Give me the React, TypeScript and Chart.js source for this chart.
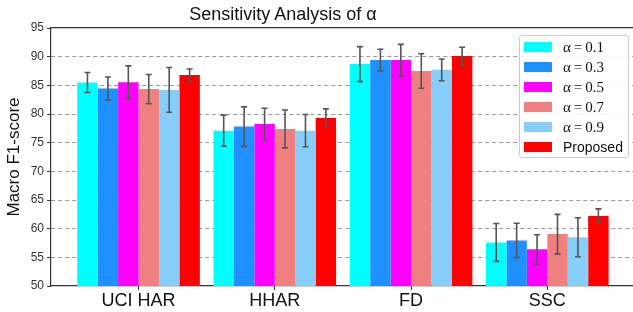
import React, { useEffect, useRef } from "react";
import { Chart, registerables } from "chart.js";

Chart.register(...registerables);

const categories = ["UCI HAR", "HHAR", "FD", "SSC"];
const seriesLabels = ["α\u2009=\u20090.1", "α\u2009=\u20090.3", "α\u2009=\u20090.5", "α\u2009=\u20090.7", "α\u2009=\u20090.9", "Proposed"];
const seriesColors = ["#00FFFF", "#1E90FF", "#FF00FF", "#F08080", "#87CEFA", "#FF0000"];

const alpha01 = [85.5, 77.1, 88.7, 57.6];
const alpha03 = [84.45, 77.8, 89.4, 57.95];
const alpha05 = [85.55, 78.25, 89.4, 56.4];
const alpha07 = [84.35, 77.4, 87.5, 59.05];
const alpha09 = [84.2, 77.1, 87.7, 58.5];
const proposed = [86.8, 79.3, 90.1, 62.2];

const err01 = [1.75, 2.7, 3.05, 3.3];
const err03 = [2.0, 3.45, 1.9, 3.0];
const err05 = [2.85, 2.75, 2.75, 2.55];
const err07 = [2.55, 3.3, 3.0, 3.45];
const err09 = [3.9, 2.8, 1.9, 3.4];
const errProposed = [1.05, 1.6, 1.55, 1.25];

const yTicks = [50, 55, 60, 65, 70, 75, 80, 85, 90, 95];

const seriesValues = [alpha01, alpha03, alpha05, alpha07, alpha09, proposed];
const seriesErrors = [err01, err03, err05, err07, err09, errProposed];

const errorBarPlugin = {
  id: "errorBars",
  afterDatasetsDraw(chart: any) {
    const ctx = chart.ctx;
    const yScale = chart.scales.y;
    ctx.save();
    ctx.strokeStyle = "#555555";
    ctx.lineWidth = 1.6;
    chart.data.datasets.forEach((ds: any, di: number) => {
      const meta = chart.getDatasetMeta(di);
      meta.data.forEach((el: any, i: number) => {
        const v = ds.data[i].y;
        const e = ds.errors[i];
        const x = el.x;
        const yTop = yScale.getPixelForValue(v + e);
        const yBot = yScale.getPixelForValue(v - e);
        ctx.beginPath();
        ctx.moveTo(x, yTop);
        ctx.lineTo(x, yBot);
        ctx.moveTo(x - 3, yTop);
        ctx.lineTo(x + 3, yTop);
        ctx.moveTo(x - 3, yBot);
        ctx.lineTo(x + 3, yBot);
        ctx.stroke();
      });
    });
    ctx.restore();
  },
};

export default function App() {
  const canvasRef = useRef<HTMLCanvasElement | null>(null);

  useEffect(() => {
    if (!canvasRef.current) return;
    const chart = new Chart(canvasRef.current, {
      type: "bar",
      data: {
        datasets: seriesValues.map((vals, si) => ({
          label: seriesLabels[si],
          data: vals.map((v, i) => ({ x: i, y: v })),
          errors: seriesErrors[si],
          backgroundColor: seriesColors[si],
          borderWidth: 0,
          categoryPercentage: 0.9,
          barPercentage: 1.0,
        })) as any,
      },
      options: {
        animation: false,
        responsive: false,
        maintainAspectRatio: false,
        layout: { padding: { top: 28, left: 0, right: 0, bottom: 0 } },
        plugins: {
          legend: { display: false },
          title: { display: false },
          tooltip: { enabled: false },
        },
        scales: {
          x: {
            type: "linear",
            offset: false,
            min: -0.6425,
            max: 3.629,
            afterBuildTicks: (s: any) => {
              s.ticks = categories.map((_, i) => ({ value: i }));
            },
            afterFit: (s: any) => {
              s.height = 26;
            },
            ticks: {
              callback: (v: any) => categories[v] ?? "",
              font: { family: "Liberation Sans", size: 18 },
              color: "#111111",
              padding: 0,
              maxRotation: 0,
              autoSkip: false,
            },
            grid: {
              display: true,
              offset: false,
              drawOnChartArea: false,
              color: "rgba(0,0,0,0)",
              drawTicks: true,
              tickLength: 4,
              tickColor: "#333333",
              tickWidth: 1,
            },
            border: { display: true, color: "#333333", width: 1.2 },
          },
          x2: {
            type: "linear",
            position: "top",
            offset: false,
            min: 0,
            max: 1,
            afterFit: (s: any) => {
              s.height = 0;
            },
            ticks: { display: false },
            grid: { display: false, drawTicks: false, offset: false },
            border: { display: true, color: "#333333", width: 1.2 },
          },
          y: {
            min: 50,
            max: 95,
            afterBuildTicks: (s: any) => {
              s.ticks = yTicks.map((v) => ({ value: v }));
            },
            afterFit: (s: any) => {
              s.width = 51;
            },
            ticks: {
              font: { family: "Liberation Sans", size: 12 },
              color: "#333333",
              padding: 3,
            },
            grid: {
              color: (c: any) =>
                c.tick && (c.tick.value === 50 || c.tick.value === 95) ? "rgba(0,0,0,0)" : "#9a9a9a",
              lineWidth: 1,
              drawTicks: true,
              tickLength: 4,
              tickColor: "#333333",
              tickWidth: 1,
              tickBorderDash: [],
            },
            border: { display: true, color: "#333333", width: 1.2, dash: [4, 3] },
            title: {
              display: true,
              text: "Macro F1-score",
              font: { family: "Liberation Sans", size: 17 },
              color: "#111111",
              padding: { top: 4, bottom: 0 },
            },
          },
        },
      },
      plugins: [errorBarPlugin],
    } as any);
    return () => chart.destroy();
  }, []);

  return (
    <div style={{ position: "absolute", left: 0, top: 0, width: 633, height: 312, background: "#ffffff", overflow: "hidden" }}>
      <canvas ref={canvasRef} width={633} height={312} style={{ position: "absolute", left: 0, top: 0 }} />
      <div
        style={{
          position: "absolute",
          left: 0,
          top: 5,
          width: 566,
          textAlign: "center",
          fontFamily: "Liberation Sans",
          fontSize: 18,
          lineHeight: "18px",
          color: "#111111",
        }}
      >
        Sensitivity Analysis of α
      </div>
      <div
        style={{
          position: "absolute",
          left: 519,
          top: 35,
          width: 108,
          height: 121,
          border: "1px solid #cccccc",
          borderRadius: 3,
          background: "rgba(255,255,255,0.85)",
        }}
      >
        {seriesLabels.map((lab, i) => (
          <div
            key={lab}
            style={{ position: "absolute", left: 4, top: 1 + i * 20, height: 20, display: "flex", alignItems: "center" }}
          >
            <span style={{ display: "inline-block", width: 28, height: 10, background: seriesColors[i] }} />
            <span
              style={{
                marginLeft: 11,
                fontFamily: i < 5 ? "Liberation Serif" : "Liberation Sans",
                fontSize: i < 5 ? 15 : 14,
                color: "#111111",
                whiteSpace: "nowrap",
              }}
            >
              {lab}
            </span>
          </div>
        ))}
      </div>
    </div>
  );
}
